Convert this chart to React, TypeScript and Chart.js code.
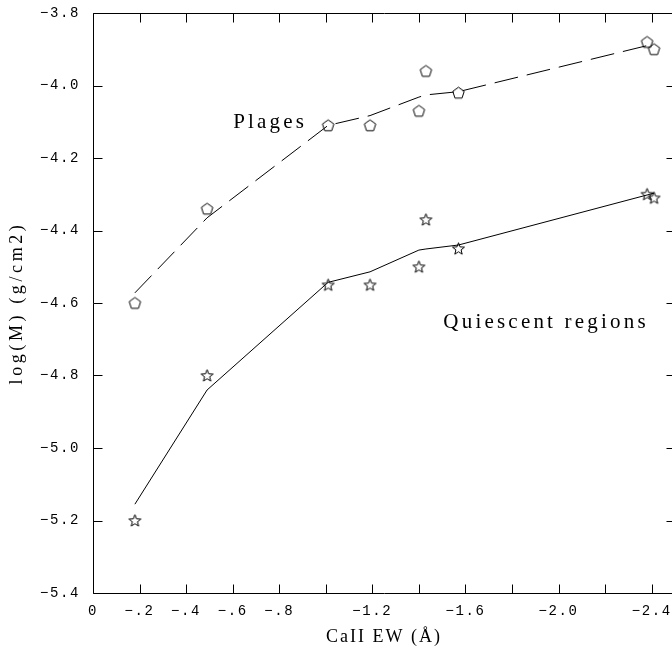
import { useEffect, useRef } from "react";
import { Chart, registerables } from "chart.js";

Chart.register(...registerables);

// ---- data ----
const ewValues = [-0.18, -0.49, -1.01, -1.19, -1.4, -1.43, -1.57, -2.38, -2.41];
const plagesMass = [-4.6, -4.34, -4.11, -4.11, -4.07, -3.96, -4.02, -3.88, -3.9];
const plagesFit = [-4.572, -4.365, -4.11, -4.083, -4.032, -4.026, -4.017, -3.89, -3.887];
const quiescentMass = [-5.2, -4.8, -4.55, -4.55, -4.5, -4.37, -4.45, -4.3, -4.31];
const quiescentFit = [-5.155, -4.84, -4.543, -4.514, -4.454, -4.451, -4.44, -4.302, -4.297];

const xTickValues = [0, -0.2, -0.4, -0.6, -0.8, -1.0, -1.2, -1.4, -1.6, -1.8, -2.0, -2.2, -2.4];
const xTickLabels = ["0", "\u2212.2", "\u2212.4", "\u2212.6", "\u2212.8", "", "\u22121.2", "", "\u22121.6", "", "\u22122.0", "", "\u22122.4"];
const yTickValues = [-3.8, -4.0, -4.2, -4.4, -4.6, -4.8, -5.0, -5.2, -5.4];
const yTickLabels = ["\u22123.8", "\u22124.0", "\u22124.2", "\u22124.4", "\u22124.6", "\u22124.8", "\u22125.0", "\u22125.2", "\u22125.4"];

const seriesNames = ["Plages", "Quiescent regions"];
const xTitle = "CaII EW (\u00C5)";
const yTitle = "log(M) (g/cm2)";

function labelFor(values: number[], labels: string[], v: number): string {
  const i = values.findIndex((t) => Math.abs(t - v) < 1e-6);
  return i >= 0 ? labels[i] : "";
}

function makeMarker(kind: "pentagon" | "star"): HTMLCanvasElement {
  const size = 17;
  const c = document.createElement("canvas");
  c.width = size;
  c.height = size;
  const g = c.getContext("2d")!;
  const cx = size / 2;
  const cy = size / 2 + 0.5;
  const n = kind === "star" ? 10 : 5;
  const R = kind === "star" ? 6.3 : 6.0;
  const r = 2.7;
  g.beginPath();
  for (let i = 0; i < n; i++) {
    const rad = kind === "star" ? (i % 2 === 0 ? R : r) : R;
    const a = -Math.PI / 2 + (i * 2 * Math.PI) / n;
    const px = cx + rad * Math.cos(a);
    const py = cy + rad * Math.sin(a);
    if (i === 0) g.moveTo(px, py);
    else g.lineTo(px, py);
  }
  g.closePath();
  g.lineWidth = 1;
  g.strokeStyle = "#000";
  g.stroke();
  return c;
}

function patchTitle(scale: any, spacing: string) {
  if (scale.__patched) return;
  const orig = scale.drawTitle.bind(scale);
  scale.drawTitle = () => {
    const ctx = scale.ctx;
    ctx.save();
    ctx.letterSpacing = spacing;
    orig();
    ctx.restore();
  };
  scale.__patched = true;
}

const framePlugin = {
  id: "frameAndLabels",
  afterLayout(chart: any) {
    patchTitle(chart.scales.x, "2px");
    patchTitle(chart.scales.y, "3.6px");
  },
  beforeDraw(chart: any) {
    chart.ctx.letterSpacing = "1.6px";
  },
  afterDraw(chart: any, _args: any, opts: any) {
    const { ctx, chartArea: a, scales } = chart;
    ctx.save();
    ctx.letterSpacing = "0px";
    ctx.strokeStyle = "#000";
    ctx.lineWidth = 1;
    const L = Math.round(a.left) + 0.5;
    const R = Math.round(a.right) + 0.5;
    const T = Math.round(a.top) + 0.5;
    const B = Math.round(a.bottom) + 0.5;
    const tl = 9;
    ctx.beginPath();
    ctx.rect(L, T, R - L, B - T);
    for (const t of scales.x.ticks) {
      const p = Math.round(scales.x.getPixelForValue(t.value)) + 0.5;
      ctx.moveTo(p, B);
      ctx.lineTo(p, B - tl);
      ctx.moveTo(p, T);
      ctx.lineTo(p, T + tl);
    }
    for (const t of scales.y.ticks) {
      const p = Math.round(scales.y.getPixelForValue(t.value)) + 0.5;
      ctx.moveTo(L, p);
      ctx.lineTo(L + tl, p);
      ctx.moveTo(R, p);
      ctx.lineTo(R - tl, p);
    }
    ctx.stroke();

    ctx.fillStyle = "#000";
    ctx.font = "21px 'Liberation Serif', serif";
    ctx.letterSpacing = "3.2px";
    ctx.textAlign = "left";
    ctx.textBaseline = "alphabetic";
    for (const lab of opts.labels || []) {
      ctx.fillText(lab.text, scales.x.getPixelForValue(lab.x), scales.y.getPixelForValue(lab.y));
    }
    ctx.restore();
  },
};

export default function App() {
  const ref = useRef<HTMLCanvasElement | null>(null);

  useEffect(() => {
    if (!ref.current) return;
    const pentagon = makeMarker("pentagon");
    const star = makeMarker("star");
    const tickFont = { family: "'Liberation Mono', monospace", size: 14 };
    const titleFont = { family: "'Liberation Serif', serif", size: 18 };

    const chart = new Chart(ref.current, {
      type: "scatter",
      data: {
        datasets: [
          {
            label: seriesNames[0] + " fit",
            data: ewValues.map((x, i) => ({ x, y: plagesFit[i] })),
            showLine: true,
            borderColor: "#000",
            borderWidth: 1,
            borderDash: [24, 9],
            pointRadius: 0,
            tension: 0,
          },
          {
            label: seriesNames[0],
            data: ewValues.map((x, i) => ({ x, y: plagesMass[i] })),
            pointStyle: pentagon as any,
            pointRadius: 6,
            borderColor: "#000",
            showLine: false,
          },
          {
            label: seriesNames[1] + " fit",
            data: ewValues.map((x, i) => ({ x, y: quiescentFit[i] })),
            showLine: true,
            borderColor: "#000",
            borderWidth: 1,
            pointRadius: 0,
            tension: 0,
          },
          {
            label: seriesNames[1],
            data: ewValues.map((x, i) => ({ x, y: quiescentMass[i] })),
            pointStyle: star as any,
            pointRadius: 6,
            borderColor: "#000",
            showLine: false,
          },
        ],
      },
      options: {
        animation: false,
        responsive: false,
        maintainAspectRatio: false,
        layout: { padding: { top: 13, right: 25, left: 0, bottom: 0 } },
        plugins: {
          legend: { display: false },
          tooltip: { enabled: false },
          frameAndLabels: {
            labels: [
              { text: seriesNames[0], x: -0.602, y: -4.117 },
              { text: seriesNames[1], x: -1.505, y: -4.669 },
            ],
          },
        } as any,
        scales: {
          x: {
            type: "linear",
            reverse: true,
            min: -2.5,
            max: 0,
            afterBuildTicks: (s: any) => {
              s.ticks = xTickValues.map((v) => ({ value: v }));
            },
            afterFit: (s: any) => {
              s.height = 57;
              s.paddingLeft = 0;
              s.paddingRight = 0;
            },
            grid: { display: false, drawTicks: false },
            border: { display: false },
            ticks: {
              autoSkip: false,
              maxRotation: 0,
              minRotation: 0,
              padding: 10,
              color: "#000",
              font: tickFont,
              callback: (v: any) => labelFor(xTickValues, xTickLabels, Number(v)),
            },
            title: {
              display: true,
              text: xTitle,
              color: "#000",
              font: titleFont,
              padding: { top: 0, bottom: 2 },
            },
          },
          y: {
            type: "linear",
            min: -5.4,
            max: -3.8,
            afterBuildTicks: (s: any) => {
              s.ticks = yTickValues.map((v) => ({ value: v }));
            },
            afterFit: (s: any) => {
              s.width = 93;
              s.paddingTop = 0;
              s.paddingBottom = 0;
            },
            grid: { display: false, drawTicks: false },
            border: { display: false },
            ticks: {
              autoSkip: false,
              padding: 13,
              color: "#000",
              font: tickFont,
              callback: (v: any) => labelFor(yTickValues, yTickLabels, Number(v)),
            },
            title: {
              display: true,
              text: yTitle,
              color: "#000",
              font: titleFont,
              padding: { top: 6, bottom: 0 },
            },
          },
        },
      },
      plugins: [framePlugin as any],
    });
    return () => chart.destroy();
  }, []);

  return (
    <div
      style={{
        position: "absolute",
        left: 0,
        top: 0,
        width: 672,
        height: 650,
        overflow: "hidden",
        background: "#fff",
      }}
    >
      <canvas ref={ref} width={700} height={650} style={{ display: "block" }} />
    </div>
  );
}
